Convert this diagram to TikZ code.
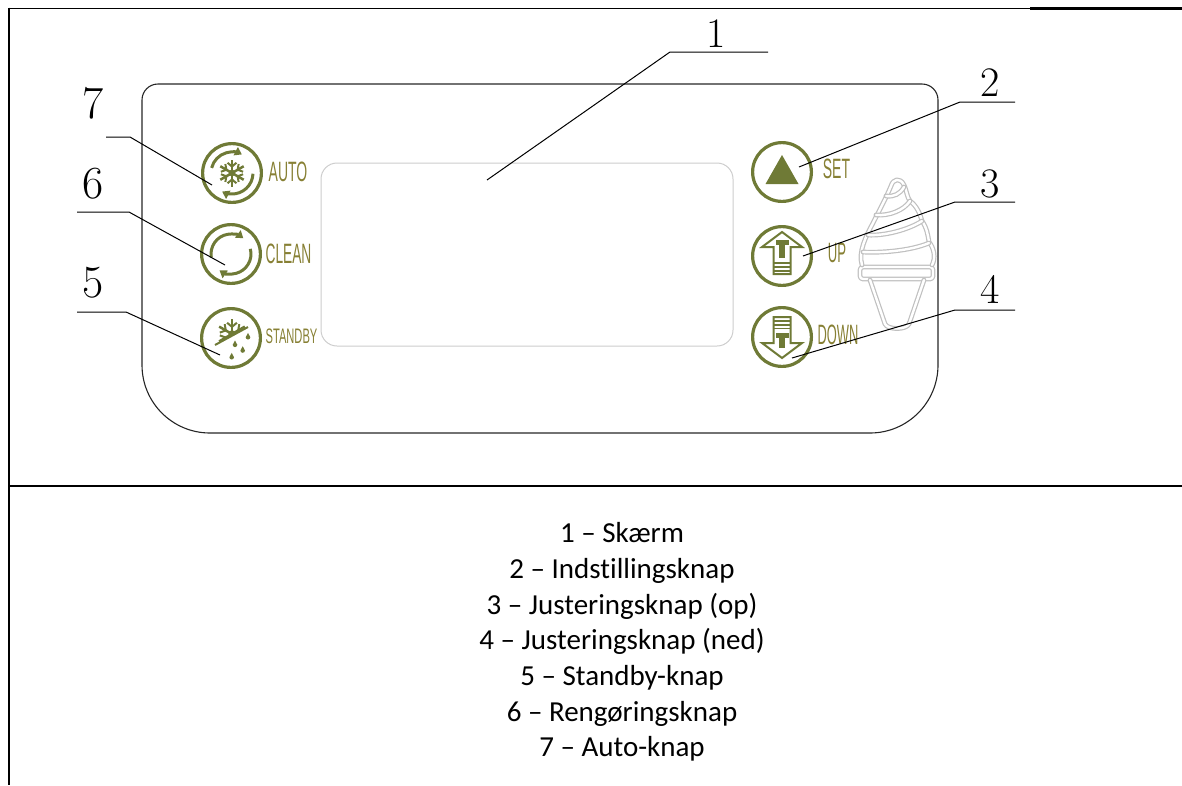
\documentclass[tikz,border=0pt]{standalone}
\usepackage{fontspec}
\newfontfamily\listfont[Ligatures=NoCommon]{Carlito}
\newfontfamily\keyfont{Liberation Sans}
\usetikzlibrary{arrows.meta}
\definecolor{btn}{RGB}{111,122,54}
\definecolor{keytext}{RGB}{135,128,52}
\definecolor{conegray}{RGB}{192,192,192}
\definecolor{screengray}{RGB}{205,205,205}

\begin{document}
\begin{tikzpicture}[x=1pt,y=-1pt,
  ring/.style={circle, draw=btn, line width=3.2, minimum size=58.8, inner sep=0},
  iconline/.style={draw=btn, line width=3},
  keylabel/.style={text=keytext, inner sep=0, font=\keyfont\fontsize{28}{28}\selectfont},
  numlabel/.style={inner sep=0, font=\fontsize{46}{46}\selectfont},
  numlabelr/.style={inner sep=0, font=\fontsize{42}{42}\selectfont},
  leader/.style={draw=black, line width=1},
  listline/.style={anchor=base, inner sep=0, font=\listfont\fontsize{29}{35}\selectfont},
  cone/.style={draw=conegray, line width=1.2, double=white, double distance=2.4, line join=round, line cap=round},
  flake/.pic={
    \fill[btn] (0,0) circle (3.4);
    \foreach \a in {90,150,210,270,330,390}{
      \draw[btn, line width=2.5] (0,0) -- (\a:13.5);
      \draw[btn, line width=2] (\a:6.5) -- +({\a+50}:5.8);
      \draw[btn, line width=2] (\a:6.5) -- +({\a-50}:5.8);
    }
  }
]
\useasboundingbox (0,0) rectangle (1182,785);

% outer frame
\draw[line width=1.2] (9,8.5) -- (1030,8.5);
\draw[line width=1.8] (9,8.5) -- (70,8.5);
\draw[line width=2.2] (1030,8.5) -- (1182,8.5);
\draw[line width=2] (9,7.5) -- (9,785);
\draw[line width=2] (9,486) -- (1182,486);

% control panel outline
\draw[line width=1.1, black!85] (158,84) -- (922,84)
  arc[start angle=-90, end angle=0, radius=16] -- (938,365)
  arc[start angle=0, end angle=90, radius=68] -- (210,433)
  arc[start angle=90, end angle=180, radius=68] -- (142,100)
  arc[start angle=180, end angle=270, radius=16] -- cycle;

% display window
\draw[screengray, line width=1, rounded corners=16] (321,163) rectangle (733,346);

% buttons
\node[ring] (b7) at (232,173) {};
\node[ring] (b6) at (231,254) {};
\node[ring] (b5) at (231,338) {};
\node[ring] (b2) at (782,172) {};
\node[ring] (b3) at (782,256) {};
\node[ring] (b4) at (782,337) {};

% AUTO icon
\begin{scope}[shift={(b7.center)}, yscale=-1]
  \draw[iconline, -{Triangle[length=7,width=9]}] (166:21) arc[start angle=166, end angle=62, radius=21];
  \draw[iconline, -{Triangle[length=7,width=9]}] (-2:21) arc[start angle=-2, end angle=-118, radius=21];
  \pic {flake};
\end{scope}

% CLEAN icon
\begin{scope}[shift={(b6.center)}, yscale=-1]
  \draw[iconline, -{Triangle[length=7,width=9]}] (190:20) arc[start angle=190, end angle=52, radius=20];
  \draw[iconline, -{Triangle[length=7,width=9]}] (15:20) arc[start angle=15, end angle=-125, radius=20];
\end{scope}

% STANDBY icon
\begin{scope}[shift={(b5.center)}, yscale=-1]
  \begin{scope}
    \clip (-26,-12.2) -- (26,16.1) -- (26,26) -- (-26,26) -- cycle;
    \pic[scale=1.1] at (1,4) {flake};
  \end{scope}
  \draw[btn, line width=2] (-16,-7) -- (17,11);
  \foreach \x/\y in {17/1.3, 4/-6.3, 11.7/-12, 0.7/-18.7}{
    \fill[btn] (\x,\y+3.8) -- (\x+2.3,\y-0.5) arc[start angle=0, end angle=-180, radius=2.3] -- cycle;
  }
\end{scope}

% SET icon
\begin{scope}[shift={(b2.center)}, yscale=-1]
  \fill[btn] (0,17) -- (16.5,-12) -- (-16.5,-12) -- cycle;
\end{scope}

% UP icon
\begin{scope}[shift={(b3.center)}, yscale=-1]
  \draw[btn, line width=2, line join=miter] (0,24) -- (20,9) -- (8.5,9) -- (8.5,-18) -- (-8.5,-18) -- (-8.5,9) -- (-20,9) -- cycle;
  \fill[btn] (-6.5,16) rectangle (6.5,11);
  \fill[btn] (-2.7,11) rectangle (2.7,-2);
  \foreach \y in {-7,-11,-15}{
    \draw[btn, line width=1.6] (-8.5,\y) -- (8.5,\y);
  }
\end{scope}

% DOWN icon
\begin{scope}[shift={(b4.center)}, yscale=-1]
  \draw[btn, line width=2, line join=miter] (0,-21) -- (20,-6) -- (8.5,-6) -- (8.5,20) -- (-8.5,20) -- (-8.5,-6) -- (-20,-6) -- cycle;
  \fill[btn] (-6.5,4) rectangle (6.5,-1);
  \fill[btn] (-2.7,-1) rectangle (2.7,-11);
  \foreach \y in {16,12,8.5}{
    \draw[btn, line width=1.6] (-8.5,\y) -- (8.5,\y);
  }
\end{scope}

% key captions
\node[keylabel] (k7) at (288,172) {\scalebox{0.5}[1]{AUTO}};
\node[keylabel] (k6) at (288.5,254) {\scalebox{0.49}[1]{CLEAN}};
\node[keylabel, font=\keyfont\fontsize{21}{21}\selectfont] (k5) at (291.5,336) {\scalebox{0.53}[1]{STANDBY}};
\node[keylabel] (k2) at (836.5,169) {\scalebox{0.5}[1]{SET}};
\node[keylabel] (k3) at (837,253) {\scalebox{0.47}[1]{UP}};
\node[keylabel] (k4) at (838,335) {\scalebox{0.46}[1]{DOWN}};

% soft-serve emblem: cone, rim and swirl
\draw[cone, rounded corners=3] (860,267) rectangle (933,279);
\draw[cone] (870,280) -- (885,324) .. controls (888,330) and (906,330) .. (909,324) -- (924,280);
\draw[cone] (862,265) .. controls (858,252) and (866,236) .. (873,223)
  .. controls (879,211) and (886,198) .. (891,186)
  .. controls (893,179) and (900,177) .. (904,185)
  .. controls (907,192) and (907,197) .. (910,201)
  .. controls (917,206) and (920,214) .. (922,221)
  .. controls (927,228) and (928,236) .. (929,242)
  .. controls (934,248) and (936,258) .. (932,265);
\draw[cone] (863,252) .. controls (880,253) and (910,251) .. (929,243);
\draw[cone] (868,235) .. controls (884,236) and (908,230) .. (922,221);
\draw[cone] (876,215) .. controls (890,216) and (904,210) .. (910,201);
\draw[cone] (886,196) .. controls (894,197) and (900,194) .. (904,187);

% callout numbers
\node[numlabel] (n7) at (93,103) {7};
\node[numlabel] (n6) at (93,184) {6};
\node[numlabel] (n5) at (93,283) {5};
\node[numlabelr] (n1) at (716,34) {1};
\node[numlabelr] (n2) at (990,83) {2};
\node[numlabelr] (n3) at (990,184) {3};
\node[numlabelr] (n4) at (990,289) {4};

% leader lines
\coordinate (h7) at (106,137); \coordinate (c7) at (130,137); \coordinate (t7) at (212,185);
\coordinate (h6) at (77,212);  \coordinate (c6) at (129,212); \coordinate (t6) at (225,265);
\coordinate (h5) at (77,312);  \coordinate (c5) at (126,312); \coordinate (t5) at (220,355);
\coordinate (h1) at (768,52);  \coordinate (c1) at (670,52);  \coordinate (t1) at (487,180);
\coordinate (h2) at (1015,102); \coordinate (c2) at (960,102); \coordinate (t2) at (799,167);
\coordinate (h3) at (1015,202); \coordinate (c3) at (955,202); \coordinate (t3) at (803,256);
\coordinate (h4) at (1015,310); \coordinate (c4) at (955,310); \coordinate (t4) at (792,358);
\foreach \i in {1,...,7}{
  \draw[leader] (h\i) -- (c\i) -- (t\i);
}

% legend
\node[listline] (d1) at (622,542) {1 – Skærm};
\node[listline] (d2) at (622,578) {2 – Indstillingsknap};
\node[listline] (d3) at (622,614) {3 – Justeringsknap (op)};
\node[listline] (d4) at (622,649) {4 – Justeringsknap (ned)};
\node[listline] (d5) at (622,685) {5 – Standby-knap};
\node[listline] (d6) at (622,721) {6 – Rengøringsknap};
\node[listline] (d7) at (622,756) {7 – Auto-knap};
\end{tikzpicture}
\end{document}
